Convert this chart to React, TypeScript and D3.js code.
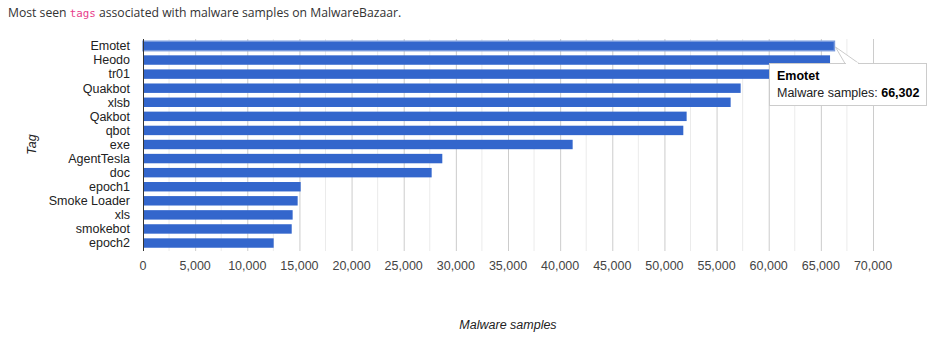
import React from "react";
import * as d3 from "d3";

const tags = ["Emotet","Heodo","tr01","Quakbot","xlsb","Qakbot","qbot","exe","AgentTesla","doc","epoch1","Smoke Loader","xls","smokebot","epoch2"];
const samples = [66302,65880,63600,57310,56350,52130,51810,41200,28700,27680,15120,14830,14350,14260,12530];
const majorTicks = d3.range(0, 70001, 5000);
const minorTicks = d3.range(2500, 70000, 5000);
const hoverIndex = 0;

const W = 935, H = 354;
const left = 143, right = 873, top = 39, bottom = 250;

export default function App() {
  const x = d3.scaleLinear().domain([0, 70000]).range([left, right]);
  const y = d3.scaleBand().domain(tags).range([top, bottom]).paddingInner(0.33).paddingOuter(0.16);
  const fmt = d3.format(",");
  const hv = samples[hoverIndex];
  const hx = x(hv);
  const hy = (y(tags[hoverIndex]) as number) + y.bandwidth() / 2;
  const tipX = 769, tipY = 63, tipW = 157, tipH = 42;
  const font = "Arial, 'Liberation Sans', sans-serif";
  return (
    <svg width={W} height={H} style={{ position: "absolute", left: 0, top: 0, background: "#fff" }}>
      <text x={8} y={17} fontFamily="'Open Sans', sans-serif" fontSize={12.2} fill="#333">
        Most seen <tspan fontFamily="'DejaVu Sans Mono', monospace" fontSize={10.8} fill="#e83e8c">tags</tspan> associated with malware samples on MalwareBazaar.
      </text>
      {minorTicks.map((t) => (
        <line key={"m" + t} x1={x(t)} x2={x(t)} y1={top} y2={bottom + 1} stroke="#ebebeb" />
      ))}
      {majorTicks.slice(1).map((t) => (
        <line key={"M" + t} x1={x(t) + 0.5} x2={x(t) + 0.5} y1={top} y2={bottom + 1} stroke="#cccccc" />
      ))}
      {tags.map((t, i) => (
        <rect key={t} x={x(0)} y={y(t)} width={x(samples[i]) - x(0)} height={y.bandwidth()}
          fill="#3366cc" stroke={i === hoverIndex ? "#7799dd" : "none"} strokeWidth={i === hoverIndex ? 1.5 : 0} />
      ))}
      <line x1={left + 0.5} x2={left + 0.5} y1={top} y2={bottom + 1} stroke="#333" />
      {tags.map((t) => (
        <text key={"l" + t} x={130} y={(y(t) as number) + y.bandwidth() / 2} dy="0.35em" textAnchor="end"
          fontFamily={font} fontSize={12.5} fill="#222">{t}</text>
      ))}
      {majorTicks.map((t) => (
        <text key={"t" + t} x={x(t)} y={270} textAnchor="middle" fontFamily={font} fontSize={12.5} fill="#444">{fmt(t)}</text>
      ))}
      <text transform={`translate(36,${(top + bottom) / 2}) rotate(-90)`} textAnchor="middle" fontFamily={font}
        fontSize={12.5} fontStyle="italic" fill="#222">Tag</text>
      <text x={(left + right) / 2} y={329} textAnchor="middle" fontFamily={font} fontSize={12.5} fontStyle="italic" fill="#222">Malware samples</text>
      <g>
        <rect x={tipX + 1} y={tipY + 1} width={tipW} height={tipH} fill="#000" opacity={0.08} />
        <path d={`M${hx + 1},${hy + 1} L${tipX + 76},${tipY + 0.5} L${tipX + 90},${tipY + 0.5} Z`} fill="#fff" stroke="#cccccc" />
        <rect x={tipX + 0.5} y={tipY + 0.5} width={tipW} height={tipH} fill="#fff" stroke="#cccccc" />
        <rect x={tipX + 77} y={tipY - 0.5} width={12} height={2} fill="#fff" />
        <text x={tipX + 8} y={tipY + 17} fontFamily={font} fontSize={12.5} fontWeight="bold" fill="#000">{tags[hoverIndex]}</text>
        <text x={tipX + 8} y={tipY + 34} fontFamily={font} fontSize={12.5} fill="#222">
          Malware samples: <tspan fontWeight="bold" fill="#000">{fmt(hv)}</tspan>
        </text>
      </g>
    </svg>
  );
}
